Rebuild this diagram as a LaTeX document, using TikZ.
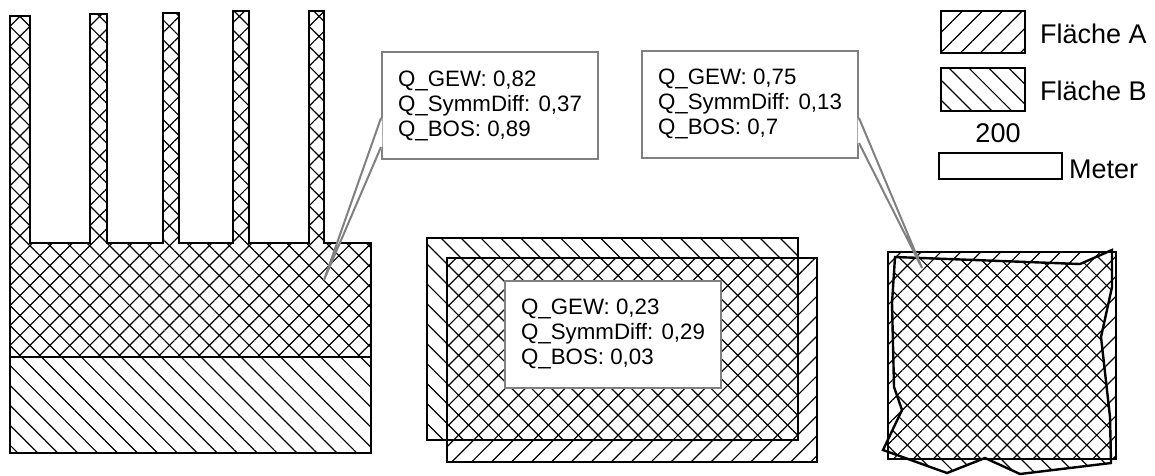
\documentclass[tikz,border=0pt]{standalone}
\usepackage{fontspec}
\setmainfont{Liberation Sans}
\usetikzlibrary{patterns.meta}

\begin{document}
\begin{tikzpicture}[x=1pt,y=-1pt,
  flA/.style={pattern={Lines[angle=45,distance=14.1pt,line width=1.2pt]}},
  flB/.style={pattern={Lines[angle=-45,distance=14.1pt,line width=1.2pt]}},
  rand/.style={line width=2.8pt,line join=miter},
  qbox/.style={draw=gray,line width=2pt,fill=white,align=left,inner xsep=15pt,
    minimum width=216pt,minimum height=107pt,font=\fontsize{22.3}{25}\selectfont},
  zeiger/.style={draw=gray,line width=2pt,line join=miter},
  leg/.style={font=\fontsize{27}{30}\selectfont,inner sep=0pt}]
\useasboundingbox (0,0) rectangle (1155,475);
% Kamm links
\path[flB] (10,16) -- (30,16) -- (30,243) -- (90,243) -- (90,14) -- (107,14) -- (107,243) -- (163,243) -- (163,13) -- (179,13) -- (179,243) -- (233,243) -- (233,11) -- (249,11) -- (249,243) -- (309,243) -- (309,11) -- (324,11) -- (324,243) -- (371,243) -- (371,453) -- (10,453) -- cycle;
\path[flA] (10,16) -- (30,16) -- (30,243) -- (90,243) -- (90,14) -- (107,14) -- (107,243) -- (163,243) -- (163,13) -- (179,13) -- (179,243) -- (233,243) -- (233,11) -- (249,11) -- (249,243) -- (309,243) -- (309,11) -- (324,11) -- (324,243) -- (371,243) -- (371,357) -- (10,357) -- cycle;
\draw[rand] (10,16) -- (30,16) -- (30,243) -- (90,243) -- (90,14) -- (107,14) -- (107,243) -- (163,243) -- (163,13) -- (179,13) -- (179,243) -- (233,243) -- (233,11) -- (249,11) -- (249,243) -- (309,243) -- (309,11) -- (324,11) -- (324,243) -- (371,243) -- (371,453) -- (10,453) -- cycle;
\draw[rand] (10,357) -- (371,357);
% Rechtecke Mitte
\path[flB] (427,238) rectangle (798,440);
\path[flA] (447,258) rectangle (817,462);
\draw[rand] (427,238) rectangle (798,440);
\draw[rand] (447,258) rectangle (817,462);
% Polygon rechts
\path[flA] (888,252) rectangle (1116,459);
\path[flB] (895,257) -- (1080,264) -- (1112,250) -- (1112,287) -- (1101,337) -- (1110,417) -- (1111,463) -- (1020,474) -- (985,458) -- (947,473) -- (883,450) -- (902,410) -- (894,387) -- (892,303) -- cycle;
\draw[rand] (888,252) rectangle (1116,459);
\draw[rand,line width=2.4pt] (895,257) -- (1080,264) -- (1112,250) -- (1112,287) -- (1101,337) -- (1110,417) -- (1111,463) -- (1020,474) -- (985,458) -- (947,473) -- (883,450) -- (902,410) -- (894,387) -- (892,303) -- cycle;
% Legende
\draw[rand,flA] (941,11) rectangle (1025,53);
\node[leg,anchor=base west] (txtA) at (1040,43.5) {Fläche A};
\draw[rand,flB] (941,68) rectangle (1025,111);
\node[leg,anchor=base west] (txtB) at (1040,100.5) {Fläche B};
\node[leg,anchor=base] (massZahl) at (998,142) {200};
\draw[rand] (939,153) rectangle (1062,179);
\node[leg,anchor=base west] (massEinheit) at (1069,178) {Meter};
% Kennzahlen
\node[qbox] (qlinks) at (490,105.5) {Q\_GEW: 0,82\\Q\_SymmDiff: 0,37\\Q\_BOS: 0,89};
\coordinate (spitzeL) at (324,280);
\fill[white] ([xshift=1.3pt,yshift=-12.5pt]qlinks.west) -- (spitzeL) -- ([xshift=1.3pt,yshift=-41.5pt]qlinks.west) -- cycle;
\draw[zeiger] ([yshift=-12.5pt]qlinks.west) -- (spitzeL) -- ([yshift=-41.5pt]qlinks.west);
\node[qbox] (qrechts) at (750,104) {Q\_GEW: 0,75\\Q\_SymmDiff: 0,13\\Q\_BOS: 0,7};
\coordinate (spitzeR) at (922,268);
\fill[white] ([xshift=-1.3pt,yshift=-14pt]qrechts.east) -- (spitzeR) -- ([xshift=-1.3pt,yshift=-39pt]qrechts.east) -- cycle;
\draw[zeiger] ([yshift=-14pt]qrechts.east) -- (spitzeR) -- ([yshift=-39pt]qrechts.east);
\node[qbox] (qmitte) at (613,334) {Q\_GEW: 0,23\\Q\_SymmDiff: 0,29\\Q\_BOS: 0,03};
\end{tikzpicture}
\end{document}
